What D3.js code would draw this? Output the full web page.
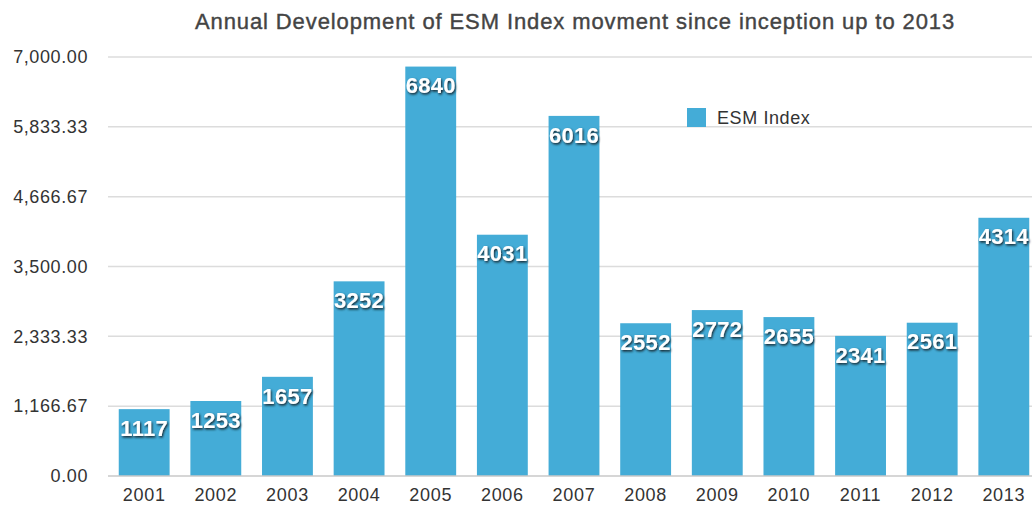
<!DOCTYPE html>
<html>
<head>
<meta charset="utf-8">
<script src="https://cdn.jsdelivr.net/npm/d3@7"></script>
<style>
  body { margin: 0; background: #fff; }
  text { font-family: "Liberation Sans", Arial, sans-serif; }
</style>
</head>
<body>
<div id="chart"></div>
<script>
// chart data
const years = ["2001", "2002", "2003", "2004", "2005", "2006", "2007", "2008", "2009", "2010", "2011", "2012", "2013"];
const esmIndex = [1117, 1253, 1657, 3252, 6840, 4031, 6016, 2552, 2772, 2655, 2341, 2561, 4314];
const yTicks = [0, 1166.67, 2333.33, 3500, 4666.67, 5833.33, 7000];
const title = "Annual Development of ESM Index movment since inception up to 2013";
const seriesName = "ESM Index";

const W = 1034, H = 507;
const plotLeft = 108, plotTop = 57, plotBottom = 476;

let svg = d3.select("#chart").append("svg")
  .attr("width", W)
  .attr("height", H);

// drop shadow for value labels
let defs = svg.append("defs");
let f = defs.append("filter").attr("id", "shadow")
  .attr("x", "-20%").attr("y", "-20%").attr("width", "140%").attr("height", "160%");
f.append("feDropShadow")
  .attr("dx", 1).attr("dy", 1.5).attr("stdDeviation", 0.9)
  .attr("flood-color", "#12222b").attr("flood-opacity", 1);

let x = d3.scaleBand()
  .domain(years)
  .range([plotLeft, 1040])
  .paddingInner(0.29)
  .paddingOuter(0.15);

let y = d3.scaleLinear()
  .domain([0, 7000])
  .range([plotBottom, plotTop]);

// gridlines
svg.append("g")
  .selectAll("line")
  .data(yTicks.slice(1))
  .join("line")
  .attr("x1", plotLeft).attr("x2", 1032)
  .attr("y1", d => y(d)).attr("y2", d => y(d))
  .attr("stroke", "#dcdcdc")
  .attr("stroke-width", 1.5);

// y axis labels
svg.append("g")
  .selectAll("text")
  .data(yTicks)
  .join("text")
  .attr("x", 88)
  .attr("y", d => y(d))
  .attr("dy", "0.35em")
  .attr("text-anchor", "end")
  .attr("font-size", 18)
  .attr("letter-spacing", 0.6)
  .attr("fill", "#333")
  .text(d => d3.format(",.2f")(d));

// bars
svg.append("g")
  .selectAll("rect")
  .data(esmIndex)
  .join("rect")
  .attr("x", (d, i) => x(years[i]))
  .attr("y", d => y(d))
  .attr("width", x.bandwidth())
  .attr("height", d => y(0) - y(d))
  .attr("fill", "#44acd7");

// baseline
svg.append("line")
  .attr("x1", plotLeft).attr("x2", 1032)
  .attr("y1", y(0)).attr("y2", y(0))
  .attr("stroke", "#c8c8c8")
  .attr("stroke-width", 1.5);

// value labels
svg.append("g")
  .selectAll("text")
  .data(esmIndex)
  .join("text")
  .attr("x", (d, i) => x(years[i]) + x.bandwidth() / 2)
  .attr("y", d => y(d) + 19)
  .attr("dy", "0.35em")
  .attr("text-anchor", "middle")
  .attr("font-size", 22)
  .attr("font-weight", "bold")
  .attr("letter-spacing", 0.3)
  .attr("fill", "#fff")
  .attr("filter", "url(#shadow)")
  .text(d => d);

// x axis labels
svg.append("g")
  .selectAll("text")
  .data(years)
  .join("text")
  .attr("x", d => x(d) + x.bandwidth() / 2)
  .attr("y", 495)
  .attr("dy", "0.35em")
  .attr("text-anchor", "middle")
  .attr("font-size", 18)
  .attr("letter-spacing", 0.7)
  .attr("fill", "#333")
  .text(d => d);

// title
svg.append("text")
  .attr("x", 575)
  .attr("y", 21)
  .attr("dy", "0.35em")
  .attr("text-anchor", "middle")
  .attr("font-size", 22)
  .attr("letter-spacing", 0.9)
  .attr("fill", "#444")
  .attr("stroke", "#444")
  .attr("stroke-width", 0.4)
  .text(title);

// legend
let legend = svg.append("g").attr("transform", "translate(687,108)");
legend.append("rect")
  .attr("width", 19).attr("height", 19)
  .attr("fill", "#44acd7");
legend.append("text")
  .attr("x", 30).attr("y", 10)
  .attr("dy", "0.35em")
  .attr("font-size", 18)
  .attr("letter-spacing", 0.6)
  .attr("fill", "#333")
  .text(seriesName);
</script>
</body>
</html>
